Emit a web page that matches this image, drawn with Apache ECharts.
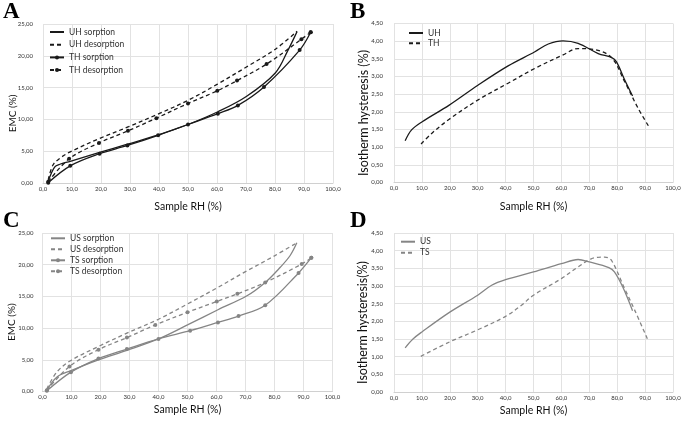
<!DOCTYPE html>
<html><head><meta charset="utf-8">
<script src="https://cdn.jsdelivr.net/npm/echarts@6/dist/echarts.min.js"></script>
<style>html,body{margin:0;padding:0;background:#fff}#c{width:685px;height:423px}</style>
</head><body><div id="c"></div>
<script>
// ---- Data (x = Sample RH %, y = value) ----
const uhSorption   = [[1.8,0.3],[4,2.5],[5.8,2.95],[9.4,3.4],[19.5,4.8],[29.1,6.1],[39.7,7.55],[50,9.2],[60.3,11.2],[70.1,13.6],[80.1,17.3],[84.5,20.9],[87.6,23.8]];
const uhDesorption = [[1.8,0.5],[3.4,2.8],[5.7,3.85],[9.4,4.9],[19.5,7.0],[29.5,8.85],[39.5,10.8],[50,13.0],[60,15.5],[70,18.2],[80,21.0],[87.6,23.85]];
const thSorption   = [[1.8,0.05],[9.4,2.7],[19.5,4.6],[29.1,5.9],[39.7,7.5],[50,9.2],[60.3,10.9],[67.2,12.2],[76.2,15.1],[88.5,20.9],[92.3,23.7]];
const thDesorption = [[1.8,0.2],[9,3.8],[19.3,6.3],[29.3,8.2],[39.1,10.2],[50,12.5],[60.1,14.5],[66.9,16.1],[77.1,18.7],[89.1,22.6],[92.3,23.7]];

const uhHyst = [[4,1.18],[6.3,1.49],[10.1,1.72],[19.8,2.19],[30.2,2.76],[40.9,3.3],[50.5,3.7],[55.3,3.92],[60.6,4.01],[66,3.94],[73.2,3.65],[77.9,3.54],[79.7,3.42],[82.7,2.9],[85.5,2.45]];
const thHyst = [[9.7,1.09],[13.5,1.39],[19.8,1.79],[30.2,2.34],[40.9,2.81],[50.5,3.23],[60.6,3.61],[66,3.79],[71.4,3.77],[77.9,3.54],[82.7,2.85],[87.5,2.1],[91.2,1.6]];

const usSorption   = [[1.5,0.2],[5,2.3],[9.8,3.3],[19.3,5.0],[29.1,6.5],[40,8.3],[50,10.5],[60.5,12.9],[70.5,15.1],[76.8,17.2],[82,19.6],[85.4,21.45],[87.7,23.45]];
const usDesorption = [[1.5,0.4],[5,3.1],[9.8,4.9],[19.3,7.1],[29.1,9.2],[40,11.4],[50,13.8],[60,16.3],[70,18.9],[80,21.4],[87.7,23.45]];
const tsSorption   = [[1.5,0.1],[9.8,3.05],[19.3,5.2],[29.1,6.7],[40,8.3],[50.9,9.6],[60.5,10.9],[67.6,11.9],[76.8,13.6],[88.3,18.7],[92.7,21.1]];
const tsDesorption = [[1.5,0.2],[9.3,3.95],[19.3,6.6],[29.1,8.5],[38.9,10.5],[50,12.5],[60.1,14.2],[67.2,15.4],[76.8,17.2],[89.4,20.1],[92.7,21.1]];

const usHyst = [[4,1.25],[6.8,1.5],[10,1.7],[20,2.26],[30,2.74],[35,3.02],[40,3.18],[50,3.4],[60,3.63],[66,3.75],[70,3.68],[77,3.52],[79,3.4],[82,2.97],[85.5,2.3]];
const tsHyst = [[9.6,1.01],[20,1.42],[30,1.76],[40,2.14],[45.6,2.45],[50,2.74],[60,3.21],[66,3.54],[70.7,3.77],[75.5,3.82],[77.9,3.73],[82.7,2.92],[86.3,2.31],[90.8,1.51]];

const panelLetters = ['A','B','C','D'];
const xName = 'Sample RH (%)';
const yNames = ['EMC (%)', 'Isotherm hysteresis (%)', 'EMC (%)', 'Isotherm hysteresis(%)'];

// ---- Layout ----
const F = 'Lato, "Open Sans", sans-serif';
const grids = [
  {left:43, top:24, width:290, height:159},
  {left:394, top:23.5, width:279, height:159},
  {left:42.5, top:233, width:290, height:158.5},
  {left:394, top:233, width:279, height:159}
];
const BLACK = '#1a1a1a', GRAY = '#858585';
const comma = d => v => v.toFixed(d).replace('.', ',');
const xNameGap = [18, 19, 13, 13];
const yNameGap = [25, 24, 26, 25];
const yNameSize = [10, 12.5, 10, 12.5];
const yLabMargin = [10, 11, 9, 11];

const xAxes = grids.map((g,i)=>({
  gridIndex:i, type:'value', min:0, max:100, interval:10,
  name:xName, nameLocation:'middle', nameGap:xNameGap[i], nameMoveOverlap:false,
  nameTextStyle:{fontFamily:F, fontSize:10.5, color:'#111'},
  axisLine:{show:true, lineStyle:{color:'#d0d0d0'}}, axisTick:{show:false},
  axisLabel:{fontSize:6, fontFamily:F, color:'#333', margin:3, formatter:comma(1)},
  splitLine:{show:true, lineStyle:{color:'#e2e2e2', width:1}}
}));
const yAxes = grids.map((g,i)=>{
  const emc = (i%2===0);
  return {
    gridIndex:i, type:'value', min:0, max: emc?25:4.5, interval: emc?5:0.5,
    name: yNames[i], nameLocation:'middle', nameGap:yNameGap[i], nameRotate:90, nameMoveOverlap:false,
    nameTextStyle:{fontFamily:F, fontSize:yNameSize[i], color:'#111', padding:[0,20,0,0]},
    axisLine:{show:false}, axisTick:{show:false},
    axisLabel:{fontSize:6, fontFamily:F, color:'#333', margin:yLabMargin[i], formatter:comma(2)},
    splitLine:{show:true, lineStyle:{color:'#e2e2e2', width:1}}
  };
});

function ser(name, data, idx, color, dashed, marker){
  return {
    name, type:'line', data, xAxisIndex:idx, yAxisIndex:idx, smooth:0.35,
    symbol: marker?'circle':'none', symbolSize:4, showSymbol:!!marker,
    lineStyle:{color, width:1.3, type: dashed?[4,3]:'solid'},
    itemStyle:{color}, emphasis:{disabled:true}, animation:false
  };
}
const series = [
  ser('UH sorption', uhSorption, 0, BLACK, false, false),
  ser('UH desorption', uhDesorption, 0, BLACK, true, false),
  ser('TH sorption', thSorption, 0, BLACK, false, true),
  ser('TH desorption', thDesorption, 0, BLACK, true, true),
  ser('UH', uhHyst, 1, BLACK, false, false),
  ser('TH', thHyst, 1, BLACK, true, false),
  ser('US sorption', usSorption, 2, GRAY, false, false),
  ser('US desorption', usDesorption, 2, GRAY, true, false),
  ser('TS sorption', tsSorption, 2, GRAY, false, true),
  ser('TS desorption', tsDesorption, 2, GRAY, true, true),
  ser('US', usHyst, 3, GRAY, false, false),
  ser('TS', tsHyst, 3, GRAY, true, false)
];
const noMark = new Set(['UH sorption','UH desorption','UH','TH','US sorption','US desorption','US','TS']);
function leg(names, left, top, gap){
  return {data: names.map(n => noMark.has(n) ? {name:n, itemStyle:{opacity:0}} : n),
    left, top, padding:0, orient:'vertical', itemWidth:14, itemHeight:5, itemGap:gap,
    textStyle:{fontFamily:F, fontSize:8.5, color:'#333', lineHeight:10}, selectedMode:false};
}
const legends = [
  leg(['UH sorption','UH desorption','TH sorption','TH desorption'], 49, 27, 2.7),
  leg(['UH','TH'], 408, 28, 0.3),
  leg(['US sorption','US desorption','TS sorption','TS desorption'], 50, 233.3, 1),
  leg(['US','TS'], 400, 236.7, 1)
];
const letterPos = [[3,1],[350,1],[3,210],[350,210]];
const graphics = panelLetters.map((t,i)=>({type:'text', left:letterPos[i][0], top:letterPos[i][1],
  style:{text:t, font:'bold 23px "Liberation Serif", serif', fill:'#000'}}));

const chart = echarts.init(document.getElementById('c'), null, {renderer:'canvas'});
chart.setOption({animation:false, grid:grids, xAxis:xAxes, yAxis:yAxes, series, legend:legends, graphic:graphics});
</script></body></html>
